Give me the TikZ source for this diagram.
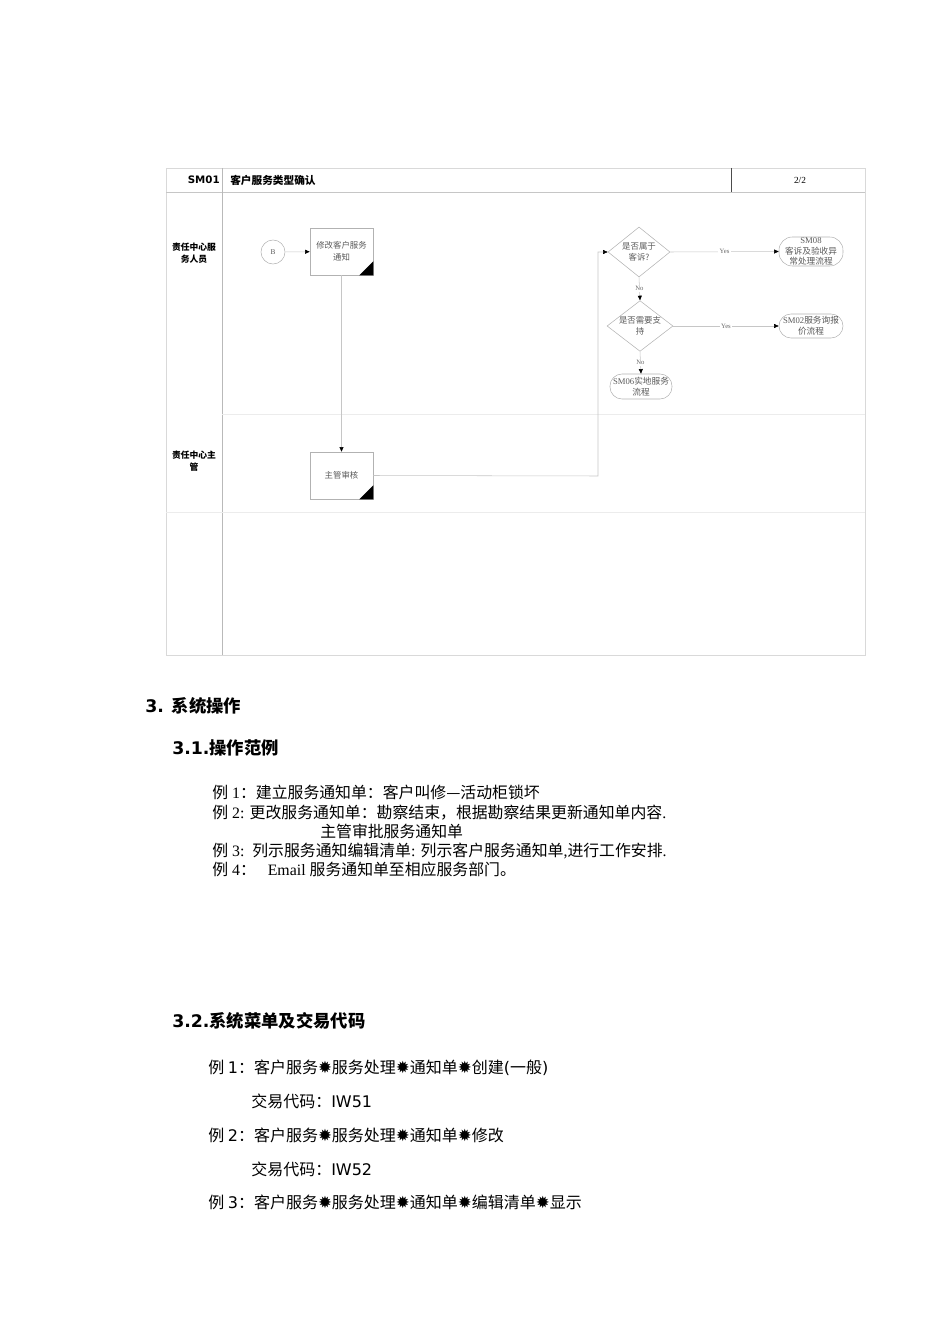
\documentclass[tikz,border=0pt]{standalone}
\usepackage{fontspec}
\setmainfont{Liberation Serif}
\newfontfamily\cjk{Noto Sans CJK SC}
\newfontfamily\dvs{DejaVu Sans}
\usetikzlibrary{arrows.meta,shapes.geometric}
\newcommand{\zh}[1]{{\cjk #1}}
\newcommand{\mstar}{{\dvs\fontsize{12.5}{12}\selectfont ✹}}

\begin{document}
\begin{tikzpicture}[x=0.75pt,y=-0.75pt,
    every node/.style={inner sep=0pt},
    flow/.style={draw=gray!45,line width=0.4pt},
    tip/.style={-{Triangle[length=3.5pt,width=3pt,color=black]}},
    procbox/.style={draw=gray!60,minimum width=47.25pt,minimum height=35.25pt,
      align=center,font=\cjk\fontsize{6.3}{9}\selectfont,text=black!65},
    decide/.style={diamond,draw=gray!60,aspect=1.3,align=center,
      font=\cjk\fontsize{6.3}{8}\selectfont,text=black!65},
    endproc/.style={draw=gray!60,minimum width=48pt,align=center,
      font=\cjk\fontsize{6.5}{7.9}\selectfont,text=black!65},
    lbl/.style={font=\rmfamily\fontsize{5}{5}\selectfont,text=black!60,fill=white,inner sep=1pt},
    lane/.style={font=\cjk\bfseries\fontsize{6.6}{9}\selectfont,align=center},
    body/.style={anchor=base west,font=\fontsize{11.9}{14}\selectfont},
    menu/.style={anchor=base west,font=\cjk\fontsize{12}{14}\selectfont},
    heading/.style={anchor=base west,font=\cjk\bfseries\fontsize{13}{15}\selectfont}]
  \useasboundingbox (0,0) rectangle (950,1344);

  % frame and lanes
  \draw[gray!30] (166,168) rectangle (865,655);
  \draw[gray!45] (166,192) -- (865,192);
  \draw[gray!55] (222,168) -- (222,655);
  \draw[black!70] (731,168) -- (731,192);
  \draw[gray!15] (222,414) -- (865,414);
  \draw[gray!15] (166,512) -- (865,512);
  \node[anchor=east,font=\dvs\bfseries\fontsize{7.7}{9}\selectfont] (code) at (220,180) {SM01};
  \node[anchor=west,font=\cjk\bfseries\fontsize{8}{9}\selectfont] (title) at (230,180) {客户服务类型确认};
  \node[font=\rmfamily\fontsize{7}{8}\selectfont] (page) at (800,180) {2/2};
  \node[lane] (lane1) at (194,253) {责任中心服\\务人员};
  \node[lane] (lane2) at (194,461) {责任中心主\\管};

  % flow
  \node[circle,draw=gray!60,minimum size=18pt,font=\rmfamily\fontsize{5.5}{6}\selectfont,text=black!65] (start) at (273,252) {B};
  \node[procbox] (modify) at (341.5,251.5) {修改客户服务\\通知};
  \node[procbox] (review) at (341.5,475.5) {主管审核};
  \foreach \n in {modify,review}
    \fill (\n.south east) -- ++(-14,0) -- ++(14,-14) -- cycle;
  \node[decide,minimum width=46.5pt,minimum height=37.5pt] (complain) at (639,252) {是否属于\\客诉?};
  \node[decide,minimum width=47.25pt,minimum height=36pt] (support) at (640,326) {是否需要支\\持};
  \node[endproc,minimum height=21.75pt,rounded corners=10pt] (sm08) at (811,251.5) {{\rmfamily SM08}\\客诉及验收异\\常处理流程};
  \node[endproc,minimum height=18pt,rounded corners=9pt] (sm02) at (811,326) {{\rmfamily SM02}服务询报\\价流程};
  \node[endproc,minimum width=46.5pt,minimum height=18.75pt,rounded corners=9pt] (sm06) at (641,386.5) {{\rmfamily SM06}实地服务\\流程};
  \coordinate (turn) at (598,476);

  \draw[flow,tip] (start) -- (modify);
  \draw[flow,tip] (modify) -- (review);
  \draw[flow,tip] (review.east) -- (turn) |- (complain.west);
  \draw[flow,tip] (complain.east) -- (sm08.west) node[lbl,midway] {Yes};
  \draw[flow,tip] (complain.south) -- (support.north) node[lbl,midway] {No};
  \draw[flow,tip] (support.east) -- (sm02.west) node[lbl,midway] {Yes};
  \draw[flow,tip] (support.south) -- (sm06.north) node[lbl,midway] {No};

  % section 3
  \node[heading] (sec3) at (145,712) {{\dvs 3.}\hspace{6pt}系统操作};
  \node[heading] (sec31) at (172,754) {{\dvs 3.1.}操作范例};
  \node[body] (ex1) at (212,798) {\zh{例}~1\zh{：建立服务通知单：客户叫修—活动柜锁坏}};
  \node[body] (ex2) at (212,818) {\zh{例}~2: \zh{更改服务通知单：勘察结束，根据勘察结果更新通知单内容}.};
  \node[body] (ex2b) at (320,837) {\zh{主管审批服务通知单}};
  \node[body] (ex3) at (212,856) {\zh{例}~3:~~\zh{列示服务通知编辑清单}: \zh{列示客户服务通知单},\zh{进行工作安排}.};
  \node[body] (ex4) at (212,875) {\zh{例}~4\zh{：}~~~Email~\zh{服务通知单至相应服务部门。}};
  \node[heading] (sec32) at (172,1027) {{\dvs 3.2.}系统菜单及交易代码};
  \node[menu] (menu1) at (208,1073) {例~{\dvs 1}：客户服务\mstar 服务处理\mstar 通知单\mstar 创建{\dvs (}一般{\dvs )}};
  \node[menu] (code1) at (251,1107) {交易代码：{\dvs IW51}};
  \node[menu] (menu2) at (208,1141) {例~{\dvs 2}：客户服务\mstar 服务处理\mstar 通知单\mstar 修改};
  \node[menu] (code2) at (251,1175) {交易代码：{\dvs IW52}};
  \node[menu] (menu3) at (208,1208) {例~{\dvs 3}：客户服务\mstar 服务处理\mstar 通知单\mstar 编辑清单\mstar 显示};
\end{tikzpicture}
\end{document}
